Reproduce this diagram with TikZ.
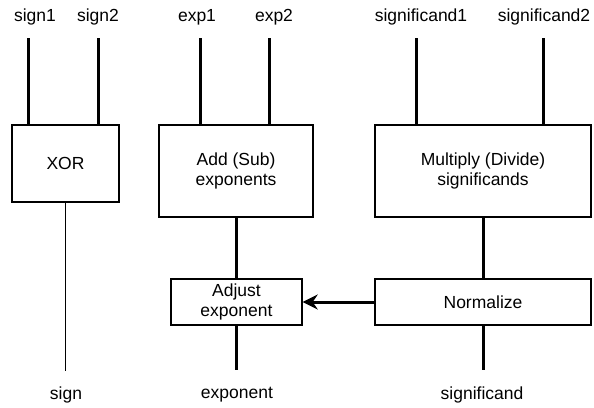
\documentclass[tikz,border=0pt]{standalone}
\usepackage{fontspec}
\setmainfont{Liberation Sans}
\usetikzlibrary{arrows.meta}
\begin{document}
\begin{tikzpicture}[x=1pt,y=-1pt,
  box/.style={draw,line width=1.4pt,inner sep=0pt,align=center,font=\fontsize{17.5}{19.5}\selectfont},
  lbl/.style={inner sep=0pt,font=\fontsize{17.5}{19.5}\selectfont},
  bus/.style={line width=3pt},
  wire/.style={line width=1.3pt}]
\useasboundingbox (0,0) rectangle (594,407);
% operation boxes
\node[box,minimum width=107pt,minimum height=77pt] (xor) at (65.5,163.5) {XOR};
\node[box,minimum width=154pt,minimum height=92pt] (add) at (236,171) {Add (Sub)\\exponents};
\node[box,minimum width=216pt,minimum height=92pt] (mul) at (483,171) {Multiply (Divide)\\significands};
\node[box,minimum width=131pt,minimum height=46pt] (adj) at (236.5,302) {Adjust\\exponent};
\node[box,minimum width=216pt,minimum height=46pt] (norm) at (483,302) {Normalize};
% input labels
\node[lbl] (s1) at (35,17) {sign1};
\node[lbl] (s2) at (98,17) {sign2};
\node[lbl] (e1) at (197,17) {exp1};
\node[lbl] (e2) at (274,17) {exp2};
\node[lbl] (m1) at (421,17) {significand1};
\node[lbl] (m2) at (544,17) {significand2};
% output labels
\node[lbl] (sout) at (66,395) {sign};
\node[lbl] (eout) at (237,395) {exponent};
\node[lbl] (mout) at (482,395) {significand};
% input buses
\coordinate (s1t) at (28,38);
\coordinate (s2t) at (98,38);
\coordinate (e1t) at (200,38);
\coordinate (e2t) at (269,38);
\coordinate (m1t) at (416,38);
\coordinate (m2t) at (543,38);
\draw[bus] (s1t) -- (s1t |- xor.north);
\draw[bus] (s2t) -- (s2t |- xor.north);
\draw[bus] (e1t) -- (e1t |- add.north);
\draw[bus] (e2t) -- (e2t |- add.north);
\draw[bus] (m1t) -- (m1t |- mul.north);
\draw[bus] (m2t) -- (m2t |- mul.north);
% internal connections
\draw[wire] (xor.south) -- (xor.south |- 0,371) coordinate (sEnd);
\draw[bus] (add.south) -- (add.south |- adj.north);
\draw[bus] (mul.south) -- (mul.south |- norm.north);
\draw[bus] (adj.south) -- (adj.south |- 0,370) coordinate (eEnd);
\draw[bus] (norm.south) -- (norm.south |- 0,370) coordinate (mEnd);
\draw[bus,-{Stealth[length=15pt,width=15pt,inset=5pt]}] (norm.west) -- (adj.east);
\end{tikzpicture}
\end{document}
